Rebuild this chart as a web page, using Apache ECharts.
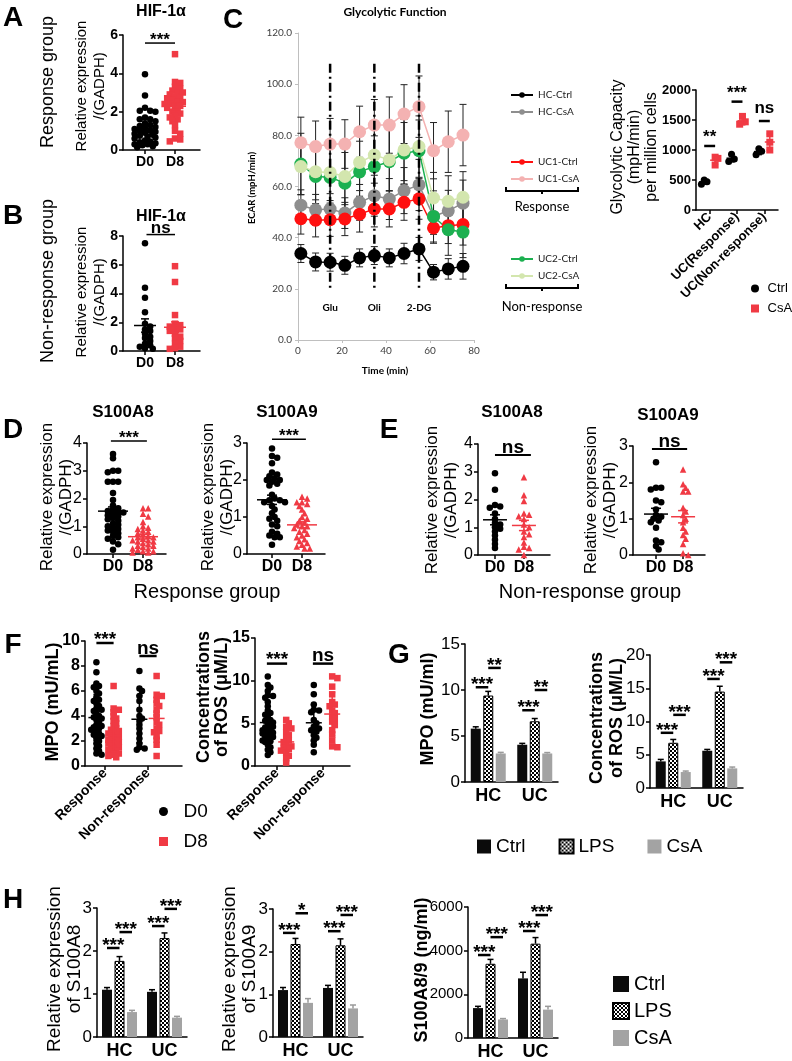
<!DOCTYPE html>
<html><head><meta charset="utf-8">
<script src="https://cdn.jsdelivr.net/npm/echarts@6/dist/echarts.min.js"></script>
<style>html,body{margin:0;padding:0;background:#fff}#c{width:792px;height:1061px}</style>
</head><body><div id="c"></div>
<script>
// ================= DATA =================
const dayCats = ['D0', 'D8'];
const groupCats = ['Response', 'Non-response'];
// A / B : HIF-1α
const hifRespD0 = [3.95, 2.85, 2.2, 2.05, 2.05, 2.0, 1.7, 1.6, 1.6, 1.5, 1.4, 1.3, 1.25, 1.2, 1.15, 1.1, 1.0, 1.0, 0.95, 0.9, 0.85, 0.8, 0.75, 0.7, 0.65, 0.6, 0.5, 0.45, 0.4, 0.35, 0.3, 0.3, 0.25, 0.2, 0.15];
const hifRespD8 = [5.0, 3.55, 3.5, 3.3, 3.2, 3.1, 3.0, 3.0, 2.9, 2.8, 2.7, 2.7, 2.6, 2.5, 2.5, 2.4, 2.4, 2.3, 2.3, 2.2, 2.1, 2.0, 1.9, 1.8, 1.7, 1.6, 1.5, 1.3, 1.0, 0.85, 0.6, 0.55, 0.45];
const hifNonD0 = [7.5, 4.4, 3.7, 2.7, 1.9, 1.7, 1.5, 1.4, 1.2, 1.0, 0.9, 0.7, 0.5, 0.4, 0.3, 0.2, 0.15];
const hifNonD8 = [5.9, 4.8, 2.5, 1.9, 1.8, 1.7, 1.6, 1.5, 1.4, 1.2, 1.0, 0.9, 0.7, 0.5, 0.3, 0.2, 0.15];
// C : Glycolytic function (ECAR)
const ecarTime = [1.3, 8.0, 14.6, 21.3, 28.0, 34.7, 41.5, 48.2, 55.0, 61.6, 68.3, 75.0];
const hcCtrl  = [33.8, 30.5, 30.4, 29.2, 32.1, 33.0, 32.1, 33.8, 35.6, 26.5, 27.8, 28.8];
const hcCsA   = [52.7, 50.9, 51.2, 49.6, 53.8, 56.4, 55.1, 58.4, 60.6, 48.3, 50.5, 53.5];
const uc1Ctrl = [47.4, 46.8, 47.0, 47.3, 49.2, 51.2, 51.2, 53.8, 55.2, 43.8, 44.7, 45.1];
const uc1CsA  = [77.1, 75.6, 76.6, 76.6, 81.4, 84.0, 84.0, 88.3, 91.2, 74.0, 77.5, 80.1];
const uc2Ctrl = [68.8, 63.9, 63.6, 61.3, 65.7, 67.8, 69.7, 73.0, 74.0, 48.3, 43.1, 42.2];
const uc2CsA  = [67.8, 65.8, 65.5, 63.9, 69.4, 72.3, 70.4, 74.3, 75.6, 55.5, 54.2, 55.8];
const hcCtrlErr  = [3.5, 3.5, 3.5, 3.5, 3.5, 3.5, 3.5, 4, 4.5, 3, 4, 5];
const hcCsAErr   = [6, 6, 6, 6, 7, 8, 8, 9, 10, 7, 8, 9];
const uc1CtrlErr = [6, 6.5, 6.5, 6.5, 7, 7, 7, 7, 8, 6, 7, 8];
const uc1CsAErr  = [10, 10, 10, 9.5, 10, 10, 11, 11.5, 12, 11, 12, 12];
const uc2CtrlErr = [12, 12, 12, 12, 12, 12, 13, 12, 12, 10, 10, 10];
const uc2CsAErr  = [11, 11, 11, 11, 11, 11, 12, 12, 12, 10, 10, 10];
const injNames = ['Glu', 'Oli', '2-DG'];
const injTimes = [14.6, 34.7, 55.0];
// C right : Glycolytic capacity
const glyCats = ['HC', 'UC(Response)', 'UC(Non-response)'];
const glyCtrlHC = [500, 470, 430], glyCtrlUCR = [930, 850, 810], glyCtrlUCN = [1020, 980, 920];
const glyCsAHC = [880, 860, 750], glyCsAUCR = [1560, 1470, 1430], glyCsAUCN = [1270, 1130, 1000];
const glySigLabels = ['**', '***', 'ns'];
const glySigLevels = [1067, 1806, 1483];
// D : response group
const dA8D0 = [3.6, 3.45, 3.0, 3.0, 2.95, 2.6, 2.6, 2.6, 2.2, 1.95, 1.75, 1.65, 1.6, 1.55, 1.5, 1.5, 1.45, 1.4, 1.35, 1.3, 1.25, 1.2, 1.1, 1.05, 1.0, 0.95, 0.9, 0.85, 0.8, 0.75, 0.65, 0.6, 0.55, 0.45, 0.35, 0.15];
const dA8D8 = [1.65, 1.65, 1.45, 1.35, 1.15, 1.0, 0.95, 0.9, 0.85, 0.8, 0.75, 0.7, 0.65, 0.6, 0.6, 0.55, 0.5, 0.5, 0.45, 0.45, 0.4, 0.35, 0.3, 0.3, 0.25, 0.2, 0.2, 0.15, 0.1, 0.1, 0.05, 0.05];
const dA9D0 = [2.85, 2.65, 2.6, 2.45, 2.2, 2.15, 2.1, 2.05, 2.0, 2.0, 1.95, 1.9, 1.85, 1.6, 1.5, 1.45, 1.45, 1.4, 1.4, 1.3, 1.2, 1.1, 1.0, 0.95, 0.9, 0.8, 0.75, 0.6, 0.55, 0.5, 0.45, 0.45, 0.25];
const dA9D8 = [1.55, 1.5, 1.4, 1.4, 1.35, 1.3, 1.2, 1.1, 1.0, 0.95, 0.9, 0.85, 0.8, 0.75, 0.75, 0.7, 0.65, 0.6, 0.55, 0.5, 0.45, 0.4, 0.35, 0.3, 0.25, 0.2, 0.15, 0.15];
// E : non-response group
const eA8D0 = [2.95, 2.35, 1.8, 1.75, 1.7, 1.5, 1.3, 1.15, 1.1, 1.0, 0.95, 0.85, 0.7, 0.55, 0.4, 0.25];
const eA8D8 = [2.8, 2.15, 1.95, 1.5, 1.45, 1.4, 1.3, 1.1, 1.0, 0.85, 0.75, 0.65, 0.45, 0.3, 0.25, 0.2, 0.0];
const eA9D0 = [2.55, 1.85, 1.85, 1.8, 1.5, 1.45, 1.25, 1.1, 1.05, 1.0, 0.95, 0.9, 0.75, 0.4, 0.35, 0.25, 0.15];
const eA9D8 = [2.35, 1.95, 1.85, 1.75, 1.75, 1.3, 1.2, 1.1, 1.0, 0.9, 0.75, 0.65, 0.55, 0.45, 0.3, 0.05, 0.0];
// F : MPO / ROS
const mpoRespD0 = [8.3, 7.5, 6.6, 6.4, 6.3, 6.0, 5.8, 5.5, 5.3, 5.2, 5.0, 4.8, 4.6, 4.5, 4.4, 4.2, 4.0, 3.9, 3.8, 3.7, 3.5, 3.3, 3.2, 3.1, 3.0, 2.9, 2.8, 2.6, 2.5, 2.4, 2.2, 2.0, 1.8, 1.6, 1.4, 1.2, 1.0, 0.9];
const mpoRespD8 = [6.4, 4.6, 4.5, 4.3, 4.0, 3.8, 3.6, 3.4, 3.2, 3.0, 2.9, 2.8, 2.7, 2.6, 2.5, 2.4, 2.3, 2.2, 2.1, 2.0, 1.9, 1.9, 1.8, 1.8, 1.7, 1.6, 1.5, 1.4, 1.3, 1.2, 1.1, 1.0, 0.9, 0.8, 0.7];
const mpoNonD0 = [7.6, 6.2, 6.0, 5.6, 5.2, 4.5, 4.0, 3.8, 3.6, 3.3, 3.0, 2.6, 2.2, 1.8, 1.5, 1.4, 1.3];
const mpoNonD8 = [7.2, 5.7, 5.6, 5.3, 5.0, 4.8, 4.5, 4.2, 3.9, 3.5, 3.3, 3.0, 2.8, 2.7, 2.4, 2.1, 1.7, 0.8];
const rosRespD0 = [10.5, 9.5, 9.2, 8.8, 8.3, 8.2, 8.0, 7.5, 7.0, 6.5, 6.2, 6.0, 5.7, 5.4, 5.3, 5.1, 4.8, 4.6, 4.5, 4.4, 4.2, 4.0, 3.9, 3.8, 3.6, 3.5, 3.4, 3.2, 3.0, 2.9, 2.8, 2.5, 2.2, 1.9, 1.6, 1.3];
const rosRespD8 = [5.4, 5.0, 4.6, 4.4, 4.0, 3.6, 3.3, 3.0, 2.8, 2.5, 2.3, 2.1, 2.0, 1.8, 1.5, 1.2, 0.9, 0.4];
const rosNonD0 = [9.5, 8.4, 7.2, 6.6, 6.5, 6.3, 5.4, 5.0, 4.6, 4.4, 4.2, 4.0, 3.6, 3.3, 3.0, 2.5, 1.6];
const rosNonD8 = [10.5, 10.3, 9.3, 8.4, 7.5, 7.2, 7.0, 6.5, 6.2, 5.8, 5.5, 5.2, 4.8, 4.2, 3.7, 3.0, 2.3, 2.2];
// G / H : bars
const barCats = ['HC', 'UC'];
const treatNames = ['Ctrl', 'LPS', 'CsA'];
const mpoCtrl = [5.8, 4.05], mpoLPS = [9.4, 6.6], mpoCsA = [3.1, 3.1];
const mpoCtrlErr = [0.2, 0.15], mpoLPSErr = [0.45, 0.3], mpoCsAErr = [0.12, 0.1];
const rosCtrl = [4.0, 5.6], rosLPS = [6.8, 14.5], rosCsA = [2.4, 2.95];
const rosCtrlErr = [0.3, 0.2], rosLPSErr = [0.5, 0.8], rosCsAErr = [0.15, 0.2];
const a8Ctrl = [1.1, 1.05], a8LPS = [1.77, 2.3], a8CsA = [0.58, 0.45];
const a8CtrlErr = [0.05, 0.05], a8LPSErr = [0.1, 0.12], a8CsAErr = [0.04, 0.03];
const a9Ctrl = [1.1, 1.15], a9LPS = [2.18, 2.15], a9CsA = [0.8, 0.67];
const a9CtrlErr = [0.06, 0.06], a9LPSErr = [0.13, 0.15], a9CsAErr = [0.1, 0.08];
const a89Ctrl = [1370, 2730], a89LPS = [3400, 4320], a89CsA = [850, 1300];
const a89CtrlErr = [80, 280], a89LPSErr = [200, 280], a89CsAErr = [40, 150];
// significance: [category, fromBar, toBar, level, label]
const mpoSig = [[0, 0, 1, 10.3, '***'], [0, 1, 2, 12.4, '**'], [1, 0, 1, 7.8, '***'], [1, 1, 2, 10.0, '**']];
const rosSig = [[0, 0, 1, 8.3, '***'], [0, 1, 2, 11.0, '***'], [1, 0, 1, 16.4, '***'], [1, 1, 2, 18.9, '***']];
const a8Sig = [[0, 0, 1, 2.07, '***'], [0, 1, 2, 2.44, '***'], [1, 0, 1, 2.58, '***'], [1, 1, 2, 2.98, '***']];
const a9Sig = [[0, 0, 1, 2.44, '***'], [0, 1, 2, 2.9, '*'], [1, 0, 1, 2.48, '***'], [1, 1, 2, 2.86, '***']];
const a89Sig = [[0, 0, 1, 3800, '***'], [0, 1, 2, 4620, '***'], [1, 0, 1, 4900, '***'], [1, 1, 2, 5630, '***']];

// ================= HELPERS =================
const FONT = 'Liberation Sans';
const CFONT = 'Lato';
const RED = '#f03a44';
const option = {animation: false, backgroundColor: '#fff', textStyle: {fontFamily: FONT},
  grid: [], xAxis: [], yAxis: [], series: [], legend: [], graphic: []};
const strip = n => n.split('|').pop();
const padStrip = n => '  ' + n.split('|').pop();
const padStrip1 = n => ' ' + n.split('|').pop();

function axStyle(o) {
  const c = o.color || '#000', lw = o.lw || 1.5;
  return {
    axisLine: {show: true, onZero: false, lineStyle: {color: c, width: lw}},
    axisTick: {show: o.tick !== false, length: o.tickLen || 4, lineStyle: {color: c, width: lw}},
    axisLabel: {color: o.labelColor || '#000', fontSize: o.font, fontWeight: o.weight || 'normal',
      fontFamily: o.family || FONT, margin: o.margin || 5, formatter: o.fmt || (v => String(v))},
    splitLine: {show: false}
  };
}
function newGrid(b) {
  option.grid.push({left: b[0], top: b[1], width: b[2], height: b[3]});
  return option.grid.length - 1;
}
// deterministic beeswarm layout (horizontal offsets only; values untouched)
function swarm(vals, cx, pxX, pxY, size, pack, maxOff) {
  const order = vals.map((v, i) => i).sort((a, b) => vals[b] - vals[a]);
  const placed = [], out = [];
  const minD = size * pack, step = size * 0.4;
  order.forEach(i => {
    const py = vals[i] * pxY;
    let best = 0, bestD = -1, off = null;
    for (let k = 0; k < 200; k++) {
      const o = k === 0 ? 0 : (k % 2 ? 1 : -1) * Math.ceil(k / 2) * step;
      if (Math.abs(o) > maxOff) break;
      const d = placed.reduce((m, p) => Math.min(m, Math.hypot(p[0] - o, p[1] - py)), 1e9);
      if (d >= minD) { off = o; break; }
      if (d > bestD) { bestD = d; best = o; }
    }
    if (off === null) off = best;
    placed.push([off, py]);
    out.push([cx + off / pxX, vals[i]]);
  });
  return out;
}
function textEl(x, y, text, size, weight, family, alignV) {
  return {type: 'text', x: x, y: y, style: {text: text, fontSize: size, fontWeight: weight, fontFamily: family || FONT,
    fill: '#000', align: 'center', verticalAlign: alignV || 'bottom', textAlign: 'center', textVerticalAlign: alignV || 'bottom'}};
}
function sigText(x, lineY, label, st) {
  const star = label.indexOf('*') >= 0;
  return textEl(x, lineY + (star ? st.starDy : st.nsDy), label, star ? st.starSize : st.nsSize, 'bold');
}

function dotPanel(p) {
  const [l, t, w, h] = p.box;
  const gi = newGrid(p.box);
  const xs = axStyle(p.xs);
  xs.axisTick.customValues = p.catPos;
  xs.axisLabel.customValues = p.catPos;
  xs.axisLabel.formatter = v => { const i = p.catPos.findIndex(c => Math.abs(c - v) < 1e-6); return i < 0 ? '' : p.catNames[i]; };
  if (p.rotate) xs.axisLabel.rotate = p.rotate;
  option.xAxis.push(Object.assign({gridIndex: gi, type: 'value', min: p.x[0], max: p.x[1]}, xs));
  option.yAxis.push(Object.assign({gridIndex: gi, type: 'value', min: p.y[0], max: p.y[1], interval: p.y[2]}, axStyle(p.ys)));
  const pxX = w / (p.x[1] - p.x[0]), pxY = h / (p.y[1] - p.y[0]);
  const stats = [];
  p.groups.forEach(g => {
    option.series.push({type: 'scatter', name: g.name, xAxisIndex: gi, yAxisIndex: gi, symbol: g.symbol,
      symbolSize: p.size, itemStyle: {color: g.color, opacity: 1}, z: 3,
      data: swarm(g.vals, g.x, pxX, pxY, p.size, p.pack, p.maxOff)});
    const n = g.vals.length, m = g.vals.reduce((a, b) => a + b, 0) / n;
    const sd = Math.sqrt(g.vals.reduce((a, b) => a + (b - m) * (b - m), 0) / (n - 1));
    stats.push([g.x, m, p.sd ? sd : sd / Math.sqrt(n), g.color]);
  });
  option.series.push({type: 'custom', xAxisIndex: gi, yAxisIndex: gi, clip: false, z: 4,
    data: stats.map(s => [s[0], s[1], s[1] + s[2], s[1] - s[2]]), encode: {x: 0, y: [1, 2, 3]},
    renderItem: (params, api) => {
      const s = stats[params.dataIndex];
      const c = api.coord([s[0], s[1]]), tp = api.coord([s[0], s[1] + s[2]]), bt = api.coord([s[0], s[1] - s[2]]);
      const st = {stroke: s[3], lineWidth: p.mlw || 1.5};
      return {type: 'group', children: [
        {type: 'line', shape: {x1: c[0] - p.hw, y1: c[1], x2: c[0] + p.hw, y2: c[1]}, style: st},
        {type: 'line', shape: {x1: c[0], y1: tp[1], x2: c[0], y2: bt[1]}, style: st},
        {type: 'line', shape: {x1: c[0] - p.cw, y1: tp[1], x2: c[0] + p.cw, y2: tp[1]}, style: st},
        {type: 'line', shape: {x1: c[0] - p.cw, y1: bt[1], x2: c[0] + p.cw, y2: bt[1]}, style: st}]};
    }});
  if (p.sig) {
    option.series.push({type: 'custom', xAxisIndex: gi, yAxisIndex: gi, clip: false, z: 5,
      data: p.sig.map(s => [s[0], s[1], s[2]]), encode: {x: [0, 1], y: 2},
      renderItem: (params, api) => {
        const s = p.sig[params.dataIndex];
        const a = api.coord([s[0], s[2]]), b = api.coord([s[1], s[2]]);
        return {type: 'group', children: [
          {type: 'line', shape: {x1: a[0], y1: a[1], x2: b[0], y2: b[1]}, style: {stroke: '#000', lineWidth: p.sigSt.lw}},
          sigText((a[0] + b[0]) / 2, a[1], s[3], p.sigSt)]};
      }});
  }
}

// checkerboard pattern for LPS bars
const checker = document.createElement('canvas');
checker.width = checker.height = 4;
(function () { const g = checker.getContext('2d'); g.fillStyle = '#fff'; g.fillRect(0, 0, 4, 4);
  g.fillStyle = '#000'; g.fillRect(0, 0, 2, 2); g.fillRect(2, 2, 2, 2); })();
const treatColors = ['#0b0b0b', {image: checker, repeat: 'repeat'}, '#a3a3a3'];

function barPanel(p) {
  const gi = newGrid(p.box);
  const xs = axStyle(Object.assign({tick: false}, p.xs));
  delete xs.axisLabel.formatter;
  option.xAxis.push(Object.assign({gridIndex: gi, type: 'category', data: barCats}, xs));
  option.yAxis.push(Object.assign({gridIndex: gi, type: 'value', min: p.y[0], max: p.y[1], interval: p.y[2]}, axStyle(p.ys)));
  const bw = 10, stepPx = bw * 1.25;
  const groups = [p.ctrl, p.lps, p.csa];
  groups.forEach((vals, k) => {
    option.series.push({type: 'bar', name: p.key + '|' + treatNames[k], xAxisIndex: gi, yAxisIndex: gi,
      barWidth: bw, barGap: '25%', data: vals, z: 2,
      itemStyle: k === 1 ? {color: treatColors[1], borderColor: '#000', borderWidth: 1} : {color: treatColors[k]}});
  });
  const errData = [], errK = [];
  groups.forEach((vals, k) => vals.forEach((v, c) => { errData.push([c, v + p.errs[k][c], v]); errK.push(k); }));
  option.series.push({type: 'custom', xAxisIndex: gi, yAxisIndex: gi, clip: false, z: 3,
    data: errData, encode: {x: 0, y: [1, 2]},
    renderItem: (params, api) => {
      const k = errK[params.dataIndex], off = (k - 1) * stepPx;
      const tp = api.coord([api.value(0), api.value(1)]), bs = api.coord([api.value(0), api.value(2)]);
      const x = tp[0] + off, st = {stroke: k === 2 ? '#9a9a9a' : '#000', lineWidth: 1.5};
      return {type: 'group', children: [
        {type: 'line', shape: {x1: x, y1: tp[1], x2: x, y2: bs[1]}, style: st},
        {type: 'line', shape: {x1: x - 3, y1: tp[1], x2: x + 3, y2: tp[1]}, style: st}]};
    }});
  option.series.push({type: 'custom', xAxisIndex: gi, yAxisIndex: gi, clip: false, z: 5,
    data: p.sig.map(s => [s[0], s[3]]), encode: {x: 0, y: 1},
    renderItem: (params, api) => {
      const s = p.sig[params.dataIndex];
      const c = api.coord([s[0], s[3]]);
      const x1 = c[0] + (s[1] - 1) * stepPx, x2 = c[0] + (s[2] - 1) * stepPx;
      return {type: 'group', children: [
        {type: 'line', shape: {x1: x1, y1: c[1], x2: x2, y2: c[1]}, style: {stroke: '#000', lineWidth: 2.5}},
        sigText((x1 + x2) / 2, c[1], s[4], p.sigSt)]};
    }});
}

// ================= PANELS =================
const sigThin = {lw: 1.5, starSize: 17, nsSize: 17, starDy: 6, nsDy: 2};
const sigBold = {lw: 2.5, starSize: 19, nsSize: 19, starDy: 6, nsDy: 2};

// A
dotPanel({box: [123, 35, 77, 115], x: [-0.733, 1.833], y: [0, 6, 2], catPos: [0, 1], catNames: dayCats,
  xs: {font: 14, weight: 'bold'}, ys: {font: 14, weight: 'bold'}, size: 6.5, pack: 0.6, maxOff: 11, hw: 11, cw: 4,
  groups: [{name: 'A|D0', x: 0, vals: hifRespD0, color: '#000', symbol: 'circle'},
           {name: 'A|D8', x: 1, vals: hifRespD8, color: RED, symbol: 'rect'}],
  sig: [[0, 1, 5.58, '***']], sigSt: sigThin});
// B
dotPanel({box: [123, 236, 77, 115], x: [-0.733, 1.833], y: [0, 8, 2], catPos: [0, 1], catNames: dayCats,
  xs: {font: 14, weight: 'bold'}, ys: {font: 14, weight: 'bold'}, size: 6.5, pack: 0.6, maxOff: 11, hw: 11, cw: 4,
  groups: [{name: 'B|D0', x: 0, vals: hifNonD0, color: '#000', symbol: 'circle'},
           {name: 'B|D8', x: 1, vals: hifNonD8, color: RED, symbol: 'rect'}],
  sig: [[0.05, 1, 8.1, 'ns']], sigSt: sigThin});

// C : ECAR line chart
(function () {
  const gi = newGrid([298, 33, 176, 307]);
  const st = {color: '#bfbfbf', lw: 1, font: 10, family: CFONT, labelColor: '#404040', tickLen: 3, margin: 6};
  option.xAxis.push(Object.assign({gridIndex: gi, type: 'value', min: 0, max: 80, interval: 20}, axStyle(st)));
  const ya = Object.assign({gridIndex: gi, type: 'value', min: 0, max: 120, interval: 20}, axStyle(st));
  ya.axisLabel.formatter = v => v.toFixed(1);
  option.yAxis.push(ya);
  const lines = [['HC-Ctrl', hcCtrl, hcCtrlErr, '#000000'], ['HC-CsA', hcCsA, hcCsAErr, '#8e8e8e'],
    ['UC1-Ctrl', uc1Ctrl, uc1CtrlErr, '#ff1010'], ['UC1-CsA', uc1CsA, uc1CsAErr, '#f4b2b2'],
    ['UC2-Ctrl', uc2Ctrl, uc2CtrlErr, '#1cb050'], ['UC2-CsA', uc2CsA, uc2CsAErr, '#d3e6ae']];
  const errData = [];
  lines.forEach(L => L[1].forEach((v, i) => errData.push([ecarTime[i], v + L[2][i], v - L[2][i]])));
  option.series.push({type: 'custom', xAxisIndex: gi, yAxisIndex: gi, clip: false, z: 1, data: errData,
    encode: {x: 0, y: [1, 2]},
    renderItem: (params, api) => {
      const a = api.coord([api.value(0), api.value(1)]), b = api.coord([api.value(0), api.value(2)]);
      const s = {stroke: '#222', lineWidth: 1};
      return {type: 'group', children: [
        {type: 'line', shape: {x1: a[0], y1: a[1], x2: b[0], y2: b[1]}, style: s},
        {type: 'line', shape: {x1: a[0] - 3.5, y1: a[1], x2: a[0] + 3.5, y2: a[1]}, style: s},
        {type: 'line', shape: {x1: b[0] - 3.5, y1: b[1], x2: b[0] + 3.5, y2: b[1]}, style: s}]};
    }});
  lines.forEach(L => option.series.push({type: 'line', name: L[0], xAxisIndex: gi, yAxisIndex: gi, z: 3,
    data: ecarTime.map((t, i) => [t, L[1][i]]), symbol: 'circle', symbolSize: 13, showSymbol: true,
    lineStyle: {color: L[3], width: 1.5}, itemStyle: {color: L[3]}}));
  option.series.push({type: 'custom', xAxisIndex: gi, yAxisIndex: gi, clip: false, z: 4,
    data: injTimes.map(t => [t, 20, 108]), encode: {x: 0, y: [1, 2]},
    renderItem: (params, api) => {
      const a = api.coord([api.value(0), api.value(2)]), b = api.coord([api.value(0), api.value(1)]);
      const lb = api.coord([api.value(0), 12.5]);
      return {type: 'group', children: [
        {type: 'line', shape: {x1: a[0], y1: a[1], x2: b[0], y2: b[1]}, style: {stroke: '#000', lineWidth: 2.5, lineDash: [9, 4, 2, 4]}},
        textEl(lb[0], lb[1], injNames[params.dataIndex], 10, 'bold', CFONT, 'middle')]};
    }});
  const lg = {orient: 'vertical', left: 505, itemWidth: 22, itemHeight: 7, itemGap: 7,
    textStyle: {fontFamily: CFONT, fontSize: 10, color: '#222'}, selectedMode: false};
  option.legend.push(Object.assign({data: ['HC-Ctrl', 'HC-CsA'], top: 85}, lg));
  option.legend.push(Object.assign({data: ['UC1-Ctrl', 'UC1-CsA'], top: 152}, lg));
  option.legend.push(Object.assign({data: ['UC2-Ctrl', 'UC2-CsA'], top: 249}, lg));
})();

// C right: glycolytic capacity
dotPanel({box: [696, 90, 82, 120], x: [-0.5, 2.5], y: [0, 2000, 500], catPos: [0, 1, 2], catNames: glyCats, rotate: 45,
  xs: {font: 13, weight: 'bold'}, ys: {font: 13, weight: 'bold'}, size: 7, pack: 0.8, maxOff: 4, hw: 5, cw: 3, sd: true,
  groups: [{name: 'gly|Ctrl', x: -0.2, vals: glyCtrlHC, color: '#000', symbol: 'circle'},
           {name: 'gly|CsA', x: 0.2, vals: glyCsAHC, color: RED, symbol: 'rect'},
           {name: 'gly|Ctrl', x: 0.8, vals: glyCtrlUCR, color: '#000', symbol: 'circle'},
           {name: 'gly|CsA', x: 1.2, vals: glyCsAUCR, color: RED, symbol: 'rect'},
           {name: 'gly|Ctrl', x: 1.8, vals: glyCtrlUCN, color: '#000', symbol: 'circle'},
           {name: 'gly|CsA', x: 2.2, vals: glyCsAUCN, color: RED, symbol: 'rect'}],
  sig: glySigLevels.map((v, i) => [i - 0.2, i + 0.2, v, glySigLabels[i]]),
  sigSt: {lw: 2.5, starSize: 17, nsSize: 17, starDy: 0, nsDy: -4}});
option.legend.push({data: ['gly|Ctrl', 'gly|CsA'], formatter: padStrip1, orient: 'vertical', left: 746, top: 277,
  itemWidth: 8, itemHeight: 8, itemGap: 7, selectedMode: false, textStyle: {fontFamily: FONT, fontSize: 13, color: '#000'}});

// D
const dotDE = {size: 6.5, pack: 0.6, maxOff: 15, hw: 15, cw: 5, xs: {font: 16, weight: 'bold'}, ys: {font: 16}};
dotPanel(Object.assign({box: [87, 443, 79, 111], x: [-0.867, 1.767], y: [0, 4, 1], catPos: [0, 1], catNames: dayCats,
  groups: [{name: 'D1|D0', x: 0, vals: dA8D0, color: '#000', symbol: 'circle'},
           {name: 'D1|D8', x: 1, vals: dA8D8, color: RED, symbol: 'triangle'}],
  sig: [[-0.07, 1.13, 4.07, '***']], sigSt: sigThin}, dotDE));
dotPanel(Object.assign({box: [247, 443, 78, 111], x: [-0.833, 1.767], y: [0, 3, 1], catPos: [0, 1], catNames: dayCats,
  groups: [{name: 'D2|D0', x: 0, vals: dA9D0, color: '#000', symbol: 'circle'},
           {name: 'D2|D8', x: 1, vals: dA9D8, color: RED, symbol: 'triangle'}],
  sig: [[0, 1.13, 3.1, '***']], sigSt: sigThin}, dotDE));
// E
const dotE = Object.assign({}, dotDE, {hw: 12, maxOff: 12});
dotPanel(Object.assign({box: [478, 444, 72, 111], x: [-0.586, 1.9], y: [0, 4, 1], catPos: [0, 1], catNames: dayCats,
  groups: [{name: 'E1|D0', x: 0, vals: eA8D0, color: '#000', symbol: 'circle'},
           {name: 'E1|D8', x: 1, vals: eA8D8, color: RED, symbol: 'triangle'}],
  sig: [[0, 1.24, 3.6, 'ns']], sigSt: {lw: 2, starSize: 19, nsSize: 19, starDy: 6, nsDy: 2}}, dotE));
dotPanel(Object.assign({box: [633, 446, 72, 109], x: [-0.85, 1.81], y: [0, 3, 1], catPos: [0, 1], catNames: dayCats,
  groups: [{name: 'E2|D0', x: 0, vals: eA9D0, color: '#000', symbol: 'circle'},
           {name: 'E2|D8', x: 1, vals: eA9D8, color: RED, symbol: 'triangle'}],
  sig: [[-0.15, 1.15, 2.92, 'ns']], sigSt: {lw: 2, starSize: 19, nsSize: 19, starDy: 6, nsDy: 2}}, dotE));

// F
const dotF = {size: 6.5, hw: 8, cw: 3, sd: true, pack: 0.55, maxOff: 7, rotate: 45, catPos: [0, 1], catNames: groupCats,
  xs: {font: 14, weight: 'bold'}, ys: {font: 16, weight: 'bold'}, sigSt: sigBold};
dotPanel(Object.assign({box: [85, 641, 97, 125], x: [-0.465, 1.79], y: [0, 10, 2],
  groups: [{name: 'F|D0', x: -0.2, vals: mpoRespD0, color: '#000', symbol: 'circle'},
           {name: 'F|D8', x: 0.2, vals: mpoRespD8, color: RED, symbol: 'rect'},
           {name: 'F|D0', x: 0.8, vals: mpoNonD0, color: '#000', symbol: 'circle'},
           {name: 'F|D8', x: 1.2, vals: mpoNonD8, color: RED, symbol: 'rect'}],
  sig: [[-0.2, 0.2, 9.84, '***'], [0.8, 1.2, 8.8, 'ns']]}, dotF));
dotPanel(Object.assign({box: [255, 638, 95, 128], x: [-0.478, 1.587], y: [0, 15, 5],
  groups: [{name: 'F2|D0', x: -0.2, vals: rosRespD0, color: '#000', symbol: 'circle'},
           {name: 'F2|D8', x: 0.2, vals: rosRespD8, color: RED, symbol: 'rect'},
           {name: 'F2|D0', x: 0.8, vals: rosNonD0, color: '#000', symbol: 'circle'},
           {name: 'F2|D8', x: 1.2, vals: rosNonD8, color: RED, symbol: 'rect'}],
  sig: [[-0.22, 0.22, 12, '***'], [0.78, 1.22, 12, 'ns']]}, dotF));
option.legend.push({data: ['F|D0', 'F|D8'], formatter: padStrip, orient: 'vertical', left: 154, top: 797,
  itemWidth: 9, itemHeight: 9, itemGap: 11, selectedMode: false, textStyle: {fontFamily: FONT, fontSize: 19, color: '#000'}});

// G
const barAx = {xs: {font: 18, weight: 'bold'}, ys: {font: 17}, sigSt: {starSize: 19, nsSize: 19, starDy: 7, nsDy: 2}};
barPanel(Object.assign({key: 'G1', box: [465, 644, 93, 138], y: [0, 15, 5], ctrl: mpoCtrl, lps: mpoLPS, csa: mpoCsA,
  errs: [mpoCtrlErr, mpoLPSErr, mpoCsAErr], sig: mpoSig}, barAx));
barPanel(Object.assign({key: 'G2', box: [650, 655, 93, 133], y: [0, 20, 5], ctrl: rosCtrl, lps: rosLPS, csa: rosCsA,
  errs: [rosCtrlErr, rosLPSErr, rosCsAErr], sig: rosSig}, barAx));
option.legend.push({data: ['G1|Ctrl', 'G1|LPS', 'G1|CsA'], formatter: strip, orient: 'horizontal', left: 472, top: 832,
  icon: 'rect', itemWidth: 14, itemHeight: 14, itemGap: 33, selectedMode: false,
  textStyle: {fontFamily: FONT, fontSize: 19, color: '#000'}});
// H
barPanel(Object.assign({key: 'H1', box: [97, 908, 90, 129], y: [0, 3, 1], ctrl: a8Ctrl, lps: a8LPS, csa: a8CsA,
  errs: [a8CtrlErr, a8LPSErr, a8CsAErr], sig: a8Sig}, barAx));
barPanel(Object.assign({key: 'H2', box: [273, 909, 90, 128], y: [0, 3, 1], ctrl: a9Ctrl, lps: a9LPS, csa: a9CsA,
  errs: [a9CtrlErr, a9LPSErr, a9CsAErr], sig: a9Sig}, barAx));
barPanel(Object.assign({key: 'H3', box: [468, 907, 90, 131], y: [0, 6000, 2000], ctrl: a89Ctrl, lps: a89LPS, csa: a89CsA,
  errs: [a89CtrlErr, a89LPSErr, a89CsAErr], sig: a89Sig}, barAx, {ys: {font: 15}}));
option.legend.push({data: ['H3|Ctrl', 'H3|LPS', 'H3|CsA'], formatter: strip, orient: 'vertical', left: 607, top: 969,
  icon: 'rect', itemWidth: 16, itemHeight: 16, itemGap: 7, selectedMode: false,
  textStyle: {fontFamily: FONT, fontSize: 20, color: '#000'}});

// ================= TEXT (labels) =================
function gtext(x, y, text, size, weight, rot, family, lh) {
  option.graphic.push({type: 'text', x: x, y: y, rotation: rot ? Math.PI / 2 : 0,
    style: {text: text, fontSize: size, fontWeight: weight || 'normal', fontFamily: family || FONT, fill: '#000',
      align: 'center', verticalAlign: 'middle', textAlign: 'center', textVerticalAlign: 'middle', lineHeight: lh || size * 1.15}});
}
[['A', 13, 18], ['B', 13, 216], ['C', 233, 20], ['D', 13, 430], ['E', 389, 430], ['F', 13, 645], ['G', 399, 655], ['H', 13, 900]]
  .forEach(L => gtext(L[1], L[2], L[0], 28, 'bold'));
gtext(161, 12, 'HIF-1α', 16, 'bold');
gtext(161, 217, 'HIF-1α', 16, 'bold');
gtext(48, 82, 'Response group', 18, 'normal', true);
gtext(48, 281, 'Non-response group', 18, 'normal', true);
gtext(91, 86, 'Relative expression\n/(GADPH)', 15, 'normal', true, FONT, 18);
gtext(91, 292, 'Relative expression\n/(GADPH)', 15, 'normal', true, FONT, 18);
gtext(395, 12, 'Glycolytic Function', 12, 'bold', false, CFONT);
gtext(385, 371, 'Time (min)', 10, 'bold', false, CFONT);
gtext(252, 188, 'ECAR (mpH/min)', 9.5, 'bold', true, CFONT);
gtext(542, 207, 'Response', 13, 'normal', false, CFONT);
gtext(542, 307, 'Non-response', 13, 'normal', false, CFONT);
[191, 288].forEach(y => {
  option.graphic.push({type: 'polyline', shape: {points: [[506, y - 4], [506, y], [578, y], [578, y - 4]]}, style: {stroke: '#000', lineWidth: 2, fill: null}});
  option.graphic.push({type: 'line', shape: {x1: 542, y1: y, x2: 542, y2: y + 3}, style: {stroke: '#000', lineWidth: 2}});
});
gtext(635, 147, 'Glycolytic Capacity\n(mpH/min)\nper million cells', 16, 'normal', true, FONT, 17);
gtext(123, 412, 'S100A8', 17, 'bold');
gtext(287, 412, 'S100A9', 17, 'bold');
gtext(512, 412, 'S100A8', 17, 'bold');
gtext(668, 415, 'S100A9', 17, 'bold');
gtext(57, 497, 'Relative expression\n/(GADPH)', 17, 'normal', true, FONT, 19);
gtext(218, 497, 'Relative expression\n/(GADPH)', 17, 'normal', true, FONT, 19);
gtext(442, 500, 'Relative expression\n/(GADPH)', 17, 'normal', true, FONT, 19);
gtext(601, 500, 'Relative expression\n/(GADPH)', 17, 'normal', true, FONT, 19);
gtext(207, 592, 'Response group', 20, 'normal');
gtext(590, 592, 'Non-response group', 20, 'normal');
gtext(53, 702, 'MPO (mU/mL)', 18, 'bold', true);
gtext(213, 697, 'Concentrations\nof ROS (μM/L)', 18, 'bold', true, FONT, 18);
gtext(428, 709, 'MPO (mU/ml)', 18, 'bold', true);
gtext(607, 718, 'Concentrations\nof ROS (μM/L)', 18, 'bold', true, FONT, 20);
gtext(65, 969, 'Relative expression\nof S100A8', 19, 'normal', true, FONT, 20);
gtext(240, 969, 'Relative expression\nof S100A9', 19, 'normal', true, FONT, 20);
gtext(422, 970, 'S100A8/9 (ng/ml)', 18, 'bold', true);

const chart = echarts.init(document.getElementById('c'));
chart.setOption(option);
</script>
</body></html>
